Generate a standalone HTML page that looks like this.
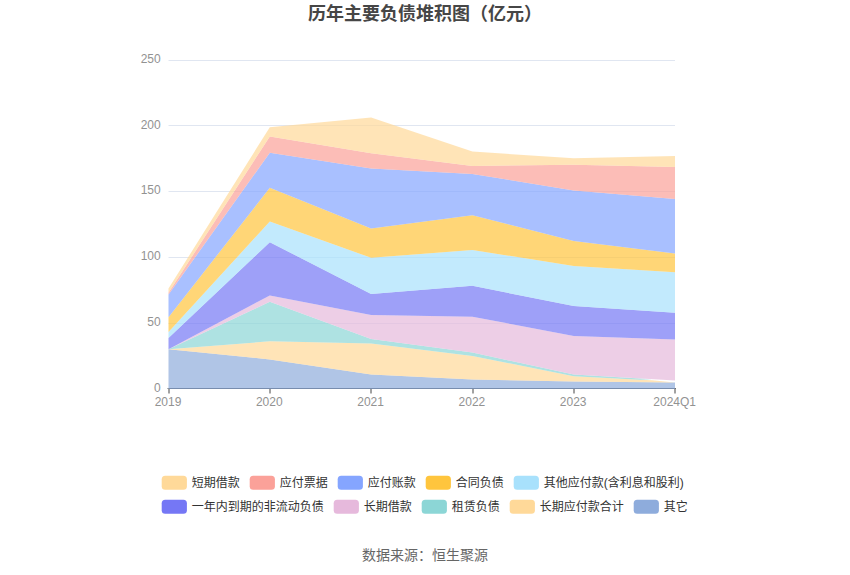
<!DOCTYPE html>
<html lang="zh-CN">
<head>
<meta charset="utf-8">
<title>历年主要负债堆积图（亿元）</title>
<style>
html,body{margin:0;padding:0;background:#fff;}
body{width:850px;height:575px;overflow:hidden;font-family:"Liberation Sans",sans-serif;}
svg{display:block;}
</style>
</head>
<body>
<svg width="850" height="575" viewBox="0 0 850 575" role="img" aria-label="历年主要负债堆积图（亿元）">
<rect width="850" height="575" fill="#fff"/>
<line x1="168.5" x2="675.0" y1="60.5" y2="60.5" stroke="#E0E6F1" stroke-width="1"/>
<line x1="168.5" x2="675.0" y1="125.5" y2="125.5" stroke="#E0E6F1" stroke-width="1"/>
<line x1="168.5" x2="675.0" y1="191.5" y2="191.5" stroke="#E0E6F1" stroke-width="1"/>
<line x1="168.5" x2="675.0" y1="257.5" y2="257.5" stroke="#E0E6F1" stroke-width="1"/>
<line x1="168.5" x2="675.0" y1="323.5" y2="323.5" stroke="#E0E6F1" stroke-width="1"/>
<line x1="168.5" x2="675.7" y1="388.5" y2="388.5" stroke="#444" stroke-width="1"/>
<line x1="167.3" x2="168.5" y1="388.5" y2="388.5" stroke="#999" stroke-width="1"/>
<line x1="169" x2="169" y1="388.5" y2="393.5" stroke="#444" stroke-width="1"/>
<line x1="270" x2="270" y1="388.5" y2="393.5" stroke="#444" stroke-width="1"/>
<line x1="371" x2="371" y1="388.5" y2="393.5" stroke="#444" stroke-width="1"/>
<line x1="473" x2="473" y1="388.5" y2="393.5" stroke="#444" stroke-width="1"/>
<line x1="574" x2="574" y1="388.5" y2="393.5" stroke="#444" stroke-width="1"/>
<line x1="675" x2="675" y1="388.5" y2="393.5" stroke="#444" stroke-width="1"/>
<polygon points="168.5,349.3 269.8,359.4 371.1,374.4 472.4,379.6 573.7,381.4 675,382.6 675,389 573.7,389 472.4,389 371.1,389 269.8,389 168.5,389" fill="#8EACDC" fill-opacity="0.7"/>
<polygon points="168.5,349.3 269.8,341.3 371.1,343.6 472.4,355.9 573.7,376.3 640,379.63 652,380.24 675,382.6 675,382.6 573.7,381.4 472.4,379.6 371.1,374.4 269.8,359.4 168.5,349.3" fill="#FFD999" fill-opacity="0.7"/>
<polygon points="168.5,349.3 269.8,301.8 371.1,339.1 472.4,352.5 573.7,374.6 652,379.24 640,379.63 573.7,376.3 472.4,355.9 371.1,343.6 269.8,341.3 168.5,349.3" fill="#8CD6D6" fill-opacity="0.7"/>
<polygon points="168.5,349.3 269.8,295.4 371.1,314.9 472.4,316.7 573.7,336 675,339.6 675,380.6 573.7,374.6 472.4,352.5 371.1,339.1 269.8,301.8 168.5,349.3" fill="#E6B9DC" fill-opacity="0.7"/>
<polygon points="168.5,338 269.8,242.2 371.1,294 472.4,285.8 573.7,306 675,312.8 675,339.6 573.7,336 472.4,316.7 371.1,314.9 269.8,295.4 168.5,349.3" fill="#7577F5" fill-opacity="0.7"/>
<polygon points="168.5,332.1 269.8,221.5 371.1,257.8 472.4,250 573.7,265.9 675,272.3 675,312.8 573.7,306 472.4,285.8 371.1,294 269.8,242.2 168.5,338" fill="#A8E1FC" fill-opacity="0.7"/>
<polygon points="168.5,317.3 269.8,187.8 371.1,228.4 472.4,215.3 573.7,240.9 675,253.4 675,272.3 573.7,265.9 472.4,250 371.1,257.8 269.8,221.5 168.5,332.1" fill="#FFC53D" fill-opacity="0.7"/>
<polygon points="168.5,294.5 269.8,152.8 371.1,168.4 472.4,174 573.7,190.5 675,199.1 675,253.4 573.7,240.9 472.4,215.3 371.1,228.4 269.8,187.8 168.5,317.3" fill="#85A5FF" fill-opacity="0.7"/>
<polygon points="168.5,292.8 269.8,136.4 371.1,153.3 472.4,165.9 573.7,164.7 675,167 675,199.1 573.7,190.5 472.4,174 371.1,168.4 269.8,152.8 168.5,294.5" fill="#FBA199" fill-opacity="0.7"/>
<polygon points="168.5,288.5 269.8,127.2 371.1,117.5 472.4,151.6 573.7,158.2 675,156.1 675,167 573.7,164.7 472.4,165.9 371.1,153.3 269.8,136.4 168.5,292.8" fill="#FFD999" fill-opacity="0.7"/>
<g font-family="'Liberation Sans', 'Noto Sans CJK SC', sans-serif" font-size="12" fill="#929292" text-anchor="end">
<text x="160.7" y="391.55">0</text>
<text x="160.7" y="325.85">50</text>
<text x="160.7" y="259.95">100</text>
<text x="160.7" y="194.25">150</text>
<text x="160.7" y="128.55">200</text>
<text x="160.7" y="62.7">250</text>
</g>
<g font-family="'Liberation Sans', 'Noto Sans CJK SC', sans-serif" font-size="12" fill="#929292" text-anchor="middle">
<text x="168" y="405.9">2019</text>
<text x="269.3" y="405.9">2020</text>
<text x="370.6" y="405.9">2021</text>
<text x="471.9" y="405.9">2022</text>
<text x="573.2" y="405.9">2023</text>
<text x="674.7" y="405.9">2024Q1</text>
</g>
<text x="425" y="19.57" font-family="'Liberation Sans', 'Noto Sans CJK SC', sans-serif" font-size="18" font-weight="bold" fill="#464646" text-anchor="middle">历年主要负债堆积图（亿元）</text>
<text x="425" y="560.21" font-family="'Liberation Sans', 'Noto Sans CJK SC', sans-serif" font-size="14" fill="#666" text-anchor="middle">数据来源：恒生聚源</text>
<rect x="161.7" y="475.8" width="25.2" height="14" rx="3.5" ry="3.5" fill="#FFD999"/>
<rect x="249.7" y="475.8" width="25.2" height="14" rx="3.5" ry="3.5" fill="#FBA199"/>
<rect x="337.7" y="475.8" width="25.2" height="14" rx="3.5" ry="3.5" fill="#85A5FF"/>
<rect x="425.7" y="475.8" width="25.2" height="14" rx="3.5" ry="3.5" fill="#FFC53D"/>
<rect x="513.7" y="475.8" width="25.2" height="14" rx="3.5" ry="3.5" fill="#A8E1FC"/>
<rect x="161.7" y="499.8" width="25.2" height="14" rx="3.5" ry="3.5" fill="#7577F5"/>
<rect x="333.7" y="499.8" width="25.2" height="14" rx="3.5" ry="3.5" fill="#E6B9DC"/>
<rect x="421.7" y="499.8" width="25.2" height="14" rx="3.5" ry="3.5" fill="#8CD6D6"/>
<rect x="509.7" y="499.8" width="25.2" height="14" rx="3.5" ry="3.5" fill="#FFD999"/>
<rect x="633.7" y="499.8" width="25.2" height="14" rx="3.5" ry="3.5" fill="#8EACDC"/>
<g font-family="'Liberation Sans', 'Noto Sans CJK SC', sans-serif" font-size="12" fill="#333">
<text x="191.7" y="486.53">短期借款</text>
<text x="279.7" y="486.53">应付票据</text>
<text x="367.7" y="486.53">应付账款</text>
<text x="455.7" y="486.53">合同负债</text>
<text x="543.7" y="486.53">其他应付款(含利息和股利)</text>
<text x="191.7" y="510.53">一年内到期的非流动负债</text>
<text x="363.7" y="510.53">长期借款</text>
<text x="451.7" y="510.53">租赁负债</text>
<text x="539.7" y="510.53">长期应付款合计</text>
<text x="663.7" y="510.53">其它</text>
</g>
</svg>
</body>
</html>
